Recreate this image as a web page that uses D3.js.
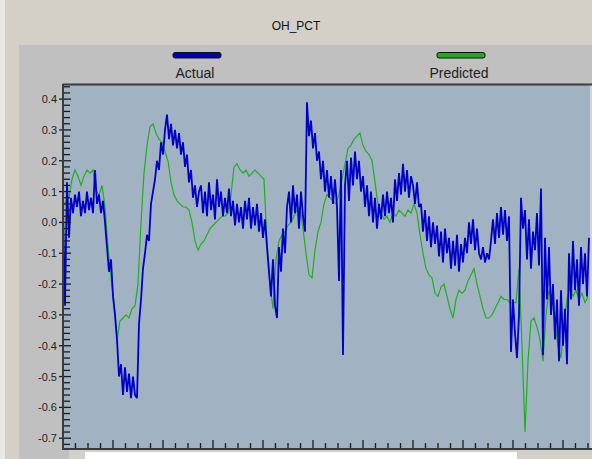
<!DOCTYPE html>
<html>
<head>
<meta charset="utf-8">
<script src="https://cdn.jsdelivr.net/npm/d3@7"></script>
<style>
  body { margin: 0; background: #d4d0c8; }
  svg { display: block; font-family: "Liberation Sans", Arial, sans-serif; }
</style>
</head>
<body>
<svg id="chart" width="592" height="459"></svg>
<script>
const title = "OH_PCT";
const seriesNames = ["Actual", "Predicted"];
const seriesColors = ["#0000c8", "#1fae1f"];
const swatchColors = ["#0000b0", "#22aa22"];

// sample counter along x; actual read every 4 samples, predicted every 6
const sampleCount = 1054;
const actualStep = 4,
  predictedStep = 6;

const actual = [
  0.04, -0.27, 0.13, -0.05, 0.08, 0.03, 0.09, 0.05, 0.10, 0.02, 0.07, 0.03, 0.10, 0.04, 0.08, 0.03,
  0.17, 0.06, 0.09, 0.03, 0.07, 0.00, -0.08, -0.16, -0.12, -0.24, -0.30, -0.38, -0.50, -0.46, -0.56, -0.47,
  -0.55, -0.49, -0.57, -0.50, -0.56, -0.57, -0.33, -0.25, -0.15, -0.10, -0.04, -0.06, 0.06, 0.10, 0.14, 0.20,
  0.17, 0.26, 0.22, 0.30, 0.35, 0.27, 0.32, 0.25, 0.30, 0.24, 0.29, 0.22, 0.26, 0.18, 0.22, 0.13,
  0.17, 0.08, 0.12, 0.05, 0.10, 0.12, 0.03, 0.10, 0.02, 0.13, 0.04, 0.09, 0.01, 0.14, 0.05, 0.10,
  0.02, 0.08, 0.03, 0.11, 0.02, 0.07, -0.01, 0.06, 0.00, 0.05, -0.02, 0.07, 0.01, 0.08, -0.02, 0.05,
  -0.01, 0.06, -0.03, 0.03, -0.05, 0.01, -0.08, -0.16, -0.24, -0.12, -0.27, -0.31, -0.08, -0.16, -0.02, -0.10,
  0.05, 0.10, 0.00, 0.12, 0.03, 0.09, -0.02, 0.10, 0.02, -0.03, 0.39, 0.28, 0.33, 0.24, 0.29, 0.20,
  0.23, 0.14, 0.20, 0.10, 0.17, 0.08, 0.15, 0.06, 0.14, 0.05, -0.19, 0.17, -0.43, 0.12, 0.20, 0.07,
  0.21, 0.12, 0.23, 0.14, 0.20, 0.10, 0.15, 0.05, 0.12, 0.02, 0.10, 0.00, 0.08, -0.02, 0.06, 0.01,
  0.09, 0.02, 0.10, 0.03, 0.08, 0.00, 0.14, 0.07, 0.16, 0.09, 0.19, 0.10, 0.17, 0.08, 0.15, 0.12,
  0.06, 0.13, 0.05, 0.06, -0.03, 0.04, -0.06, 0.02, -0.08, 0.00, -0.07, -0.01, -0.11, -0.03, -0.13, -0.02,
  -0.10, -0.05, -0.15, -0.06, -0.14, -0.04, -0.16, -0.07, -0.13, -0.05, -0.10, 0.00, -0.07, 0.01, -0.09, -0.02,
  -0.10, -0.12, -0.08, -0.13, -0.10, -0.12, -0.06, 0.01, -0.07, 0.03, -0.05, 0.05, -0.04, 0.04, -0.06, 0.02,
  -0.42, -0.25, -0.36, -0.44, -0.30, 0.08, -0.02, 0.04, -0.12, 0.01, -0.15, -0.03, -0.09, 0.03, -0.14, 0.11,
  -0.43, -0.05, -0.25, -0.08, -0.30, -0.20, -0.38, -0.25, -0.45, -0.22, -0.40, -0.28, -0.46, -0.10, -0.25, -0.06,
  -0.22, -0.12, -0.27, -0.08, -0.20, -0.10, -0.24, -0.05
];

const predicted = [
  0.05, 0.07, 0.08, 0.14, 0.17, 0.15, 0.12, 0.15, 0.17, 0.16, 0.17, 0.10, 0.09, 0.12, 0.05, -0.08,
  -0.18, -0.26, -0.38, -0.32, -0.31, -0.30, -0.31, -0.28, -0.27, -0.20, 0.00, 0.16, 0.25, 0.31, 0.32, 0.29,
  0.27, 0.26, 0.23, 0.20, 0.13, 0.09, 0.07, 0.06, 0.05, 0.05, 0.04, 0.00, -0.06, -0.09, -0.07, -0.06,
  -0.04, -0.02, -0.01, 0.00, 0.01, 0.02, 0.02, 0.03, 0.09, 0.18, 0.19, 0.17, 0.16, 0.17, 0.15, 0.16,
  0.17, 0.16, 0.15, 0.14, -0.06, -0.20, -0.28, -0.12, -0.06, -0.04, -0.03, -0.01, 0.00, 0.02, 0.04, 0.05,
  -0.02, -0.10, -0.17, -0.18, -0.09, -0.03, 0.00, 0.06, 0.09, 0.08, 0.07, 0.06, 0.09, 0.14, 0.19, 0.24,
  0.25, 0.27, 0.28, 0.29, 0.25, 0.23, 0.22, 0.20, 0.13, 0.06, 0.03, 0.01, 0.02, 0.00, 0.03, 0.02,
  0.04, 0.03, 0.02, 0.04, 0.03, 0.06, 0.03, -0.04, -0.10, -0.15, -0.17, -0.18, -0.23, -0.24, -0.21, -0.20,
  -0.24, -0.28, -0.31, -0.25, -0.22, -0.23, -0.22, -0.19, -0.17, -0.15, -0.20, -0.24, -0.28, -0.31, -0.31, -0.30,
  -0.28, -0.26, -0.24, -0.25, -0.25, -0.26, -0.26, -0.26, -0.15, -0.40, -0.68, -0.45, -0.32, -0.31, -0.34, -0.38,
  -0.45, -0.30, -0.22, -0.25, -0.33, -0.40, -0.44, -0.33, -0.25, -0.21, -0.24, -0.22, -0.25, -0.23, -0.26, -0.24
];

const yMajorTicks = d3.range(-7, 5).map(d => d / 10);
const yMinorTicks = d3.range(-36, 23).map(d => d / 50).filter(d => Math.round(d * 50) % 5 != 0);
const xTicks = d3.range(0, sampleCount + 1, 25);

const plot = { left: 63, right: 590, top: 84, bottom: 449 };

const $svg = d3.select("#chart");

const xScale = d3.scaleLinear().domain([0, sampleCount]).range([plot.left, plot.right]);
const yScale = d3.scaleLinear().domain([-0.735, 0.449]).range([plot.bottom, plot.top]);

function drawFrame() {
  $svg.append("rect").attr("width", 592).attr("height", 459).attr("fill", "#d4d0c8");
  $svg.append("rect").attr("width", 5).attr("height", 459).attr("fill", "#e9e7e3");
  // grey panel behind legend and plot
  $svg.append("rect").attr("x", 19).attr("y", 45).attr("width", 573).attr("height", 414).attr("fill", "#c0c0c0");
  // strip under the plot
  $svg.append("rect").attr("x", 69).attr("y", 450).attr("width", 523).attr("height", 9).attr("fill", "#d4d0c8");
  $svg.append("rect").attr("x", 85).attr("y", 452).attr("width", 432).attr("height", 7).attr("fill", "#ffffff");

  $svg.append("text")
    .attr("x", 296)
    .attr("y", 30)
    .attr("text-anchor", "middle")
    .attr("font-size", 12)
    .attr("fill", "#111")
    .text(title);

  const legendX = [197, 461];
  seriesNames.forEach((name, i) => {
    $svg.append("rect")
      .attr("x", legendX[i] - 24)
      .attr("y", 52.5)
      .attr("width", 48)
      .attr("height", 5.5)
      .attr("rx", 2)
      .attr("fill", swatchColors[i])
      .attr("stroke", "#111")
      .attr("stroke-width", 1);
    $svg.append("text")
      .attr("x", legendX[i] - 2)
      .attr("y", 78)
      .attr("text-anchor", "middle")
      .attr("font-size", 14)
      .attr("fill", "#222")
      .text(name);
  });

  $svg.append("rect")
    .attr("x", plot.left)
    .attr("y", plot.top)
    .attr("width", plot.right - plot.left)
    .attr("height", plot.bottom - plot.top)
    .attr("fill", "#a1b3c3");
  $svg.append("line")
    .attr("x1", plot.right + 1).attr("x2", plot.right + 1)
    .attr("y1", plot.top).attr("y2", plot.bottom)
    .attr("stroke", "#d6dde4").attr("stroke-width", 1.5);
  $svg.append("line")
    .attr("x1", plot.left).attr("x2", 592)
    .attr("y1", plot.top + 0.5).attr("y2", plot.top + 0.5)
    .attr("stroke", "#3c3c3c").attr("stroke-width", 2);
}

function drawAxes() {
  const axisGroup = $svg.append("g").attr("id", "axes");

  axisGroup.selectAll(".y-minor")
    .data(yMinorTicks)
    .enter()
    .append("line")
    .attr("class", "y-minor")
    .attr("x1", 64).attr("x2", 70)
    .attr("y1", d => yScale(d)).attr("y2", d => yScale(d))
    .attr("stroke", "#1a1a1a").attr("stroke-width", 1.3);

  axisGroup.selectAll(".y-major")
    .data(yMajorTicks)
    .enter()
    .append("line")
    .attr("class", "y-major")
    .attr("x1", 59).attr("x2", 71)
    .attr("y1", d => yScale(d)).attr("y2", d => yScale(d))
    .attr("stroke", "#1a1a1a").attr("stroke-width", 1.3);

  axisGroup.selectAll(".y-label")
    .data(yMajorTicks)
    .enter()
    .append("text")
    .attr("class", "y-label")
    .attr("x", 57)
    .attr("y", d => yScale(d) + 4)
    .attr("text-anchor", "end")
    .attr("font-size", 11)
    .attr("fill", "#222")
    .text(d => d.toFixed(1));

  axisGroup.selectAll(".x-tick")
    .data(xTicks)
    .enter()
    .append("line")
    .attr("class", "x-tick")
    .attr("x1", d => xScale(d)).attr("x2", d => xScale(d))
    .attr("y1", d => (d % 100 == 0 ? plot.bottom - 9 : plot.bottom - 6))
    .attr("y2", plot.bottom)
    .attr("stroke", "#1a1a1a").attr("stroke-width", 1.3);

  axisGroup.append("line")
    .attr("x1", plot.left).attr("x2", 592)
    .attr("y1", plot.bottom).attr("y2", plot.bottom)
    .attr("stroke", "#3a3a3a").attr("stroke-width", 2);
  axisGroup.append("line")
    .attr("x1", plot.left).attr("x2", plot.left)
    .attr("y1", plot.top).attr("y2", plot.bottom + 1)
    .attr("stroke", "#3a3a3a").attr("stroke-width", 2);
}

function drawSeries() {
  $svg.append("clipPath").attr("id", "plot-clip")
    .append("rect")
    .attr("x", plot.left + 1)
    .attr("y", plot.top + 1)
    .attr("width", plot.right - plot.left)
    .attr("height", plot.bottom - plot.top - 2);

  const lineGroup = $svg.append("g").attr("clip-path", "url(#plot-clip)");

  const predLine = d3.line()
    .x((d, i) => xScale(i * predictedStep))
    .y(d => yScale(d));
  const actualLine = d3.line()
    .x((d, i) => xScale(i * actualStep))
    .y(d => yScale(d));

  lineGroup.append("path")
    .attr("d", predLine(predicted))
    .attr("fill", "none")
    .attr("stroke", seriesColors[1])
    .attr("stroke-width", 1.2);

  lineGroup.append("path")
    .attr("d", actualLine(actual))
    .attr("fill", "none")
    .attr("stroke", seriesColors[0])
    .attr("stroke-width", 1.8)
    .attr("stroke-linejoin", "bevel");
}

drawFrame();
drawSeries();
drawAxes();
</script>
</body>
</html>
